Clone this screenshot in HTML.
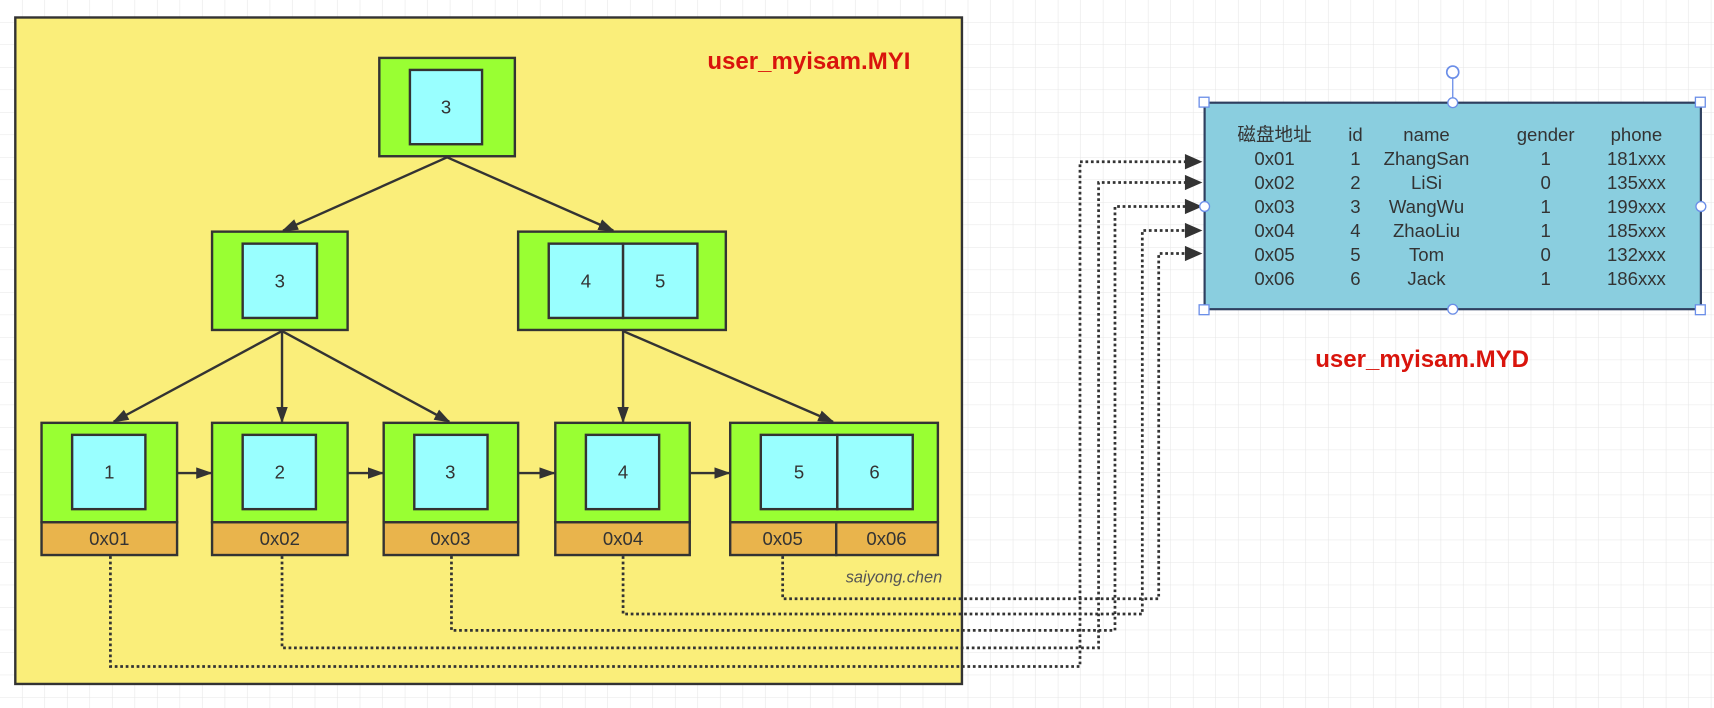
<!DOCTYPE html>
<html><head><meta charset="utf-8"><style>
html,body{margin:0;padding:0;background:#fff;}
svg{display:block;}
text{font-family:"Liberation Sans","Noto Sans CJK SC",sans-serif;}
</style></head><body>
<svg width="1714" height="708" viewBox="0 0 1568 648" preserveAspectRatio="none" xmlns="http://www.w3.org/2000/svg">
<defs>
<pattern id="g" width="20.6" height="20.6" patternUnits="userSpaceOnUse">
<path d="M20.6 0V20.6H0" fill="none" stroke="#e6e6e6" stroke-width="1"/>
</pattern>
<marker id="a" viewBox="0 0 10 10" refX="9" refY="5" markerWidth="15" markerHeight="15" orient="auto" markerUnits="userSpaceOnUse">
<path d="M0 1.5L10 5L0 8.5z" fill="#333"/>
</marker>
</defs>
<rect width="1568" height="648" fill="url(#g)"/>
<rect x="14" y="16" width="866" height="610" fill="#FAEE7A" stroke="#333" stroke-width="2.2"/>
<text x="740" y="63" font-size="22" font-weight="bold" fill="#D9140C" text-anchor="middle">user_myisam.MYI</text>

<g stroke="#333" stroke-width="2.2">
<rect x="347" y="53" width="124" height="90" fill="#99FF33"/>
<rect x="375" y="64" width="66" height="68" fill="#99FFFF"/>
<rect x="194" y="212" width="124" height="90" fill="#99FF33"/>
<rect x="222" y="223" width="68" height="68" fill="#99FFFF"/>
<rect x="474" y="212" width="190" height="90" fill="#99FF33"/>
<rect x="502" y="223" width="68" height="68" fill="#99FFFF"/>
<rect x="570" y="223" width="68" height="68" fill="#99FFFF"/>

<rect x="38" y="387" width="124" height="91" fill="#99FF33"/><rect x="66" y="398" width="67" height="68" fill="#99FFFF"/><rect x="38" y="478" width="124" height="30" fill="#E9B44C"/>
<rect x="194" y="387" width="124" height="91" fill="#99FF33"/><rect x="222" y="398" width="67" height="68" fill="#99FFFF"/><rect x="194" y="478" width="124" height="30" fill="#E9B44C"/>
<rect x="351" y="387" width="123" height="91" fill="#99FF33"/><rect x="379" y="398" width="67" height="68" fill="#99FFFF"/><rect x="351" y="478" width="123" height="30" fill="#E9B44C"/>
<rect x="508" y="387" width="123" height="91" fill="#99FF33"/><rect x="536" y="398" width="67" height="68" fill="#99FFFF"/><rect x="508" y="478" width="123" height="30" fill="#E9B44C"/>
<rect x="668" y="387" width="190" height="91" fill="#99FF33"/><rect x="696" y="398" width="70" height="68" fill="#99FFFF"/><rect x="766" y="398" width="69" height="68" fill="#99FFFF"/><rect x="668" y="478" width="97" height="30" fill="#E9B44C"/><rect x="765" y="478" width="93" height="30" fill="#E9B44C"/>

<g fill="none" marker-end="url(#a)">
<line x1="409" y1="144" x2="259" y2="211"/>
<line x1="409" y1="144" x2="561" y2="211"/>
<line x1="258" y1="303" x2="104" y2="386"/>
<line x1="258" y1="303" x2="258" y2="386"/>
<line x1="258" y1="303" x2="411" y2="386"/>
<line x1="570" y1="303" x2="570" y2="386"/>
<line x1="570" y1="303" x2="762" y2="386"/>
<line x1="162" y1="433" x2="193" y2="433"/>
<line x1="318" y1="433" x2="350" y2="433"/>
<line x1="474" y1="433" x2="507" y2="433"/>
<line x1="631" y1="433" x2="667" y2="433"/>
</g>
</g>

<g font-size="17" fill="#333" text-anchor="middle">
<text x="408" y="104">3</text>
<text x="256" y="263">3</text>
<text x="536" y="263">4</text><text x="604" y="263">5</text>
<text x="100" y="438">1</text><text x="256" y="438">2</text><text x="412" y="438">3</text><text x="570" y="438">4</text><text x="731" y="438">5</text><text x="800" y="438">6</text>
<text x="100" y="499">0x01</text><text x="256" y="499">0x02</text><text x="412" y="499">0x03</text><text x="570" y="499">0x04</text><text x="716" y="499">0x05</text><text x="811" y="499">0x06</text>
</g>
<text x="862" y="533" font-size="15" font-style="italic" fill="#555" text-anchor="end">saiyong.chen</text>

<g fill="none" stroke="#333" stroke-width="2.5" stroke-dasharray="2.5,2.5">
<path d="M101 509V610H988V148H1085"/>
<path d="M258 509V593H1005V167H1085"/>
<path d="M413 509V577H1020V189H1085"/>
<path d="M570 509V562H1045V211H1085"/>
<path d="M716 509V548H1060V232H1085"/>
</g>
<g fill="#333">
<path d="M1084 141L1100 148L1084 155z"/>
<path d="M1084 160L1100 167L1084 174z"/>
<path d="M1084 182L1100 189L1084 196z"/>
<path d="M1084 204L1100 211L1084 218z"/>
<path d="M1084 225L1100 232L1084 239z"/>
</g>

<rect x="1102" y="94" width="454" height="189" fill="#8ACEDF" stroke="#2f3f5f" stroke-width="2"/>
<line x1="1329" y1="72" x2="1329" y2="94" stroke="#6b8ee8" stroke-width="1.2"/>
<circle cx="1329" cy="66" r="5.5" fill="#fff" stroke="#6b8ee8" stroke-width="1.5"/>
<g fill="#fff" stroke="#6b8ee8" stroke-width="1.2">
<rect x="1097" y="89" width="9" height="9"/><rect x="1551" y="89" width="9" height="9"/>
<rect x="1097" y="279" width="9" height="9"/><rect x="1551" y="279" width="9" height="9"/>
<circle cx="1329" cy="94" r="4.5"/><circle cx="1329" cy="283" r="4.5"/>
<circle cx="1102" cy="189" r="4.5"/><circle cx="1556" cy="189" r="4.5"/>
</g>
<g font-size="17" fill="#333" text-anchor="middle">
<text x="1166" y="129">磁盘地址</text><text x="1240" y="129">id</text><text x="1305" y="129">name</text><text x="1414" y="129">gender</text><text x="1497" y="129">phone</text>
<text x="1166" y="151">0x01</text><text x="1240" y="151">1</text><text x="1305" y="151">ZhangSan</text><text x="1414" y="151">1</text><text x="1497" y="151">181xxx</text>
<text x="1166" y="173">0x02</text><text x="1240" y="173">2</text><text x="1305" y="173">LiSi</text><text x="1414" y="173">0</text><text x="1497" y="173">135xxx</text>
<text x="1166" y="195">0x03</text><text x="1240" y="195">3</text><text x="1305" y="195">WangWu</text><text x="1414" y="195">1</text><text x="1497" y="195">199xxx</text>
<text x="1166" y="217">0x04</text><text x="1240" y="217">4</text><text x="1305" y="217">ZhaoLiu</text><text x="1414" y="217">1</text><text x="1497" y="217">185xxx</text>
<text x="1166" y="239">0x05</text><text x="1240" y="239">5</text><text x="1305" y="239">Tom</text><text x="1414" y="239">0</text><text x="1497" y="239">132xxx</text>
<text x="1166" y="261">0x06</text><text x="1240" y="261">6</text><text x="1305" y="261">Jack</text><text x="1414" y="261">1</text><text x="1497" y="261">186xxx</text>
</g>
<text x="1301" y="336" font-size="22" font-weight="bold" fill="#D9140C" text-anchor="middle">user_myisam.MYD</text>
</svg>
</body></html>
